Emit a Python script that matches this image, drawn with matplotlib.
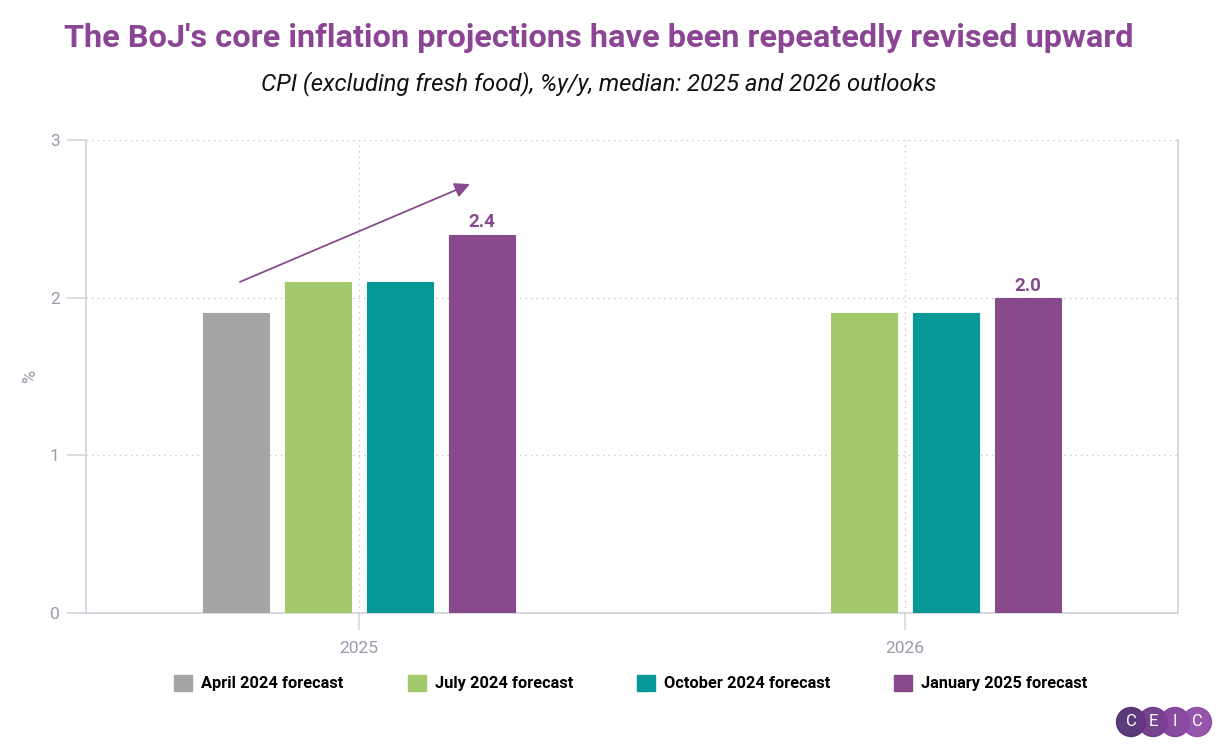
import numpy as np
import matplotlib
matplotlib.use("Agg")
import matplotlib.pyplot as plt
from matplotlib.patches import Circle

plt.rcParams['font.family'] = ['Roboto', 'DejaVu Sans']

categories = ["2025", "2026"]
series_names = ["April 2024 forecast", "July 2024 forecast",
                "October 2024 forecast", "January 2025 forecast"]
april_2024 = [1.9, np.nan]
july_2024 = [2.1, 1.9]
october_2024 = [2.1, 1.9]
january_2025 = [2.4, 2.0]
series_values = [april_2024, july_2024, october_2024, january_2025]
colors = ["#A5A5A4", "#A2C96C", "#069896", "#884A8C"]
yticks = [0, 1, 2, 3]

fig = plt.figure(figsize=(12.23, 7.5), dpi=100)
W, H = 1223, 750
ax = fig.add_axes([86 / W, 1 - 613 / H, (1178 - 86) / W, (613 - 140) / H])

x = np.arange(len(categories))
offsets = [-0.225, -0.075, 0.075, 0.225]
width = 0.12
for vals, off, col in zip(series_values, offsets, colors):
    ax.bar(x + off, vals, width=width, color=col, edgecolor=col, linewidth=0.8, zorder=3)

# data labels for latest forecast
for xi, v in zip(x, january_2025):
    ax.text(xi + offsets[3], v + 0.02, f"{v:.1f}", ha="center", va="bottom",
            fontsize=13.5, fontweight="bold", color="#884A8C", zorder=4)

# arrow
ax.annotate("", xy=(0.203, 2.72), xytext=(-0.218, 2.10),
            arrowprops=dict(arrowstyle="-|>,head_length=0.9,head_width=0.45",
                            color="#884A8C", lw=1.3, shrinkA=0, shrinkB=0), zorder=5)

ax.set_xlim(-0.5, 1.5)
ax.set_ylim(0, 3)
ax.set_xticks(x)
ax.set_xticklabels(categories)
ax.set_yticks(yticks)
ax.set_yticklabels([str(t) for t in yticks])
ax.grid(True, which="major", axis="both", linestyle=(0, (1, 3)), color="#C8C8C8", lw=1.0, zorder=0)
for side in ["left", "right", "bottom"]:
    ax.spines[side].set_color("#D4D4DE")
    ax.spines[side].set_linewidth(1.3)
ax.spines["top"].set_visible(False)
ax.tick_params(axis="y", length=14, color="#D4D4DE", width=1.2, labelsize=12.5,
               labelcolor="#9A9AAA", pad=5)
ax.tick_params(axis="x", length=12, color="#D4D4DE", width=1.2, labelsize=12.5,
               labelcolor="#9A9AAA", pad=8)
ax.set_ylabel("%", fontsize=13, color="#9A9AAA")
ax.yaxis.set_label_coords((39 - 86) / (1178 - 86), 0.5)

# titles
fig.text(599 / W, 1 - 38 / H, "The BoJ's core inflation projections have been repeatedly revised upward",
         ha="center", va="center", fontsize=23.4, fontweight="bold", color="#8B4594")
fig.text(599 / W, 1 - 84 / H, "CPI (excluding fresh food), %y/y, median: 2025 and 2026 outlooks",
         ha="center", va="center", fontsize=17.2, style="italic", color="#111111")

# legend
handles = [plt.Rectangle((0, 0), 1, 1, facecolor=c, edgecolor=c) for c in colors]
leg = fig.legend(handles, series_names, loc="center", bbox_to_anchor=(631 / W, 1 - 683 / H),
                 ncol=4, frameon=False, handlelength=1.1, handleheight=1.1,
                 handletextpad=0.55, columnspacing=3.9,
                 prop=dict(family=["Roboto", "DejaVu Sans"], weight="bold", size=11.8))

# CEIC logo
logo_ax = fig.add_axes([1114 / W, 1 - 742 / H, 100 / W, 40 / H])
logo_ax.set_xlim(0, 100)
logo_ax.set_ylim(0, 40)
logo_ax.set_aspect("equal")
logo_ax.axis("off")
logo_cols = ["#4E2A6E", "#6A3486", "#7E3D96", "#8E48A4"]
letters = ["C", "E", "I", "C"]
for i, (c, l) in enumerate(zip(logo_cols, letters)):
    cx = 17 + i * 22
    logo_ax.add_patch(Circle((cx, 20), 14.5, color=c, alpha=0.92))
    logo_ax.text(cx, 20, l, ha="center", va="center", color="white", fontsize=12)

fig.savefig("out.png", dpi=100)
